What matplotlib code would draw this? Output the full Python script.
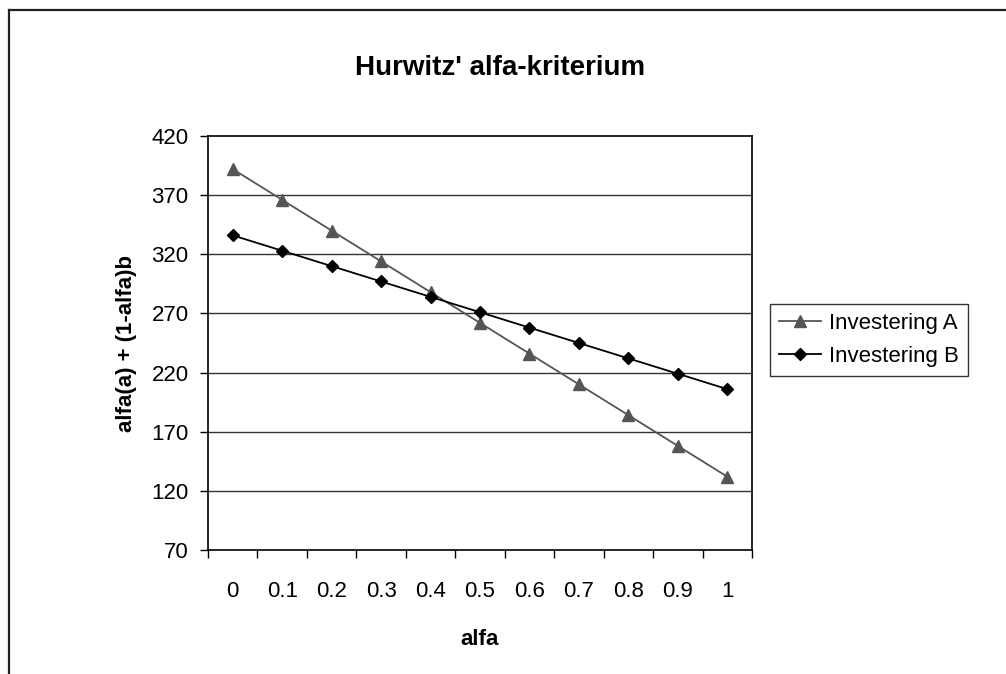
import matplotlib
matplotlib.use("Agg")
import matplotlib.pyplot as plt
from matplotlib.lines import Line2D
import numpy as np

# ---- data ---------------------------------------------------------------
alfa = ["0", "0.1", "0.2", "0.3", "0.4", "0.5", "0.6", "0.7", "0.8", "0.9", "1"]
invest_a = [392, 366, 340, 314, 288, 262, 236, 210, 184, 158, 132]
invest_b = [336, 323, 310, 297, 284, 271, 258, 245, 232, 219, 206]
y_ticks = [70, 120, 170, 220, 270, 320, 370, 420]

plt.rcParams.update({
    "font.family": ["Liberation Sans", "DejaVu Sans"],
    "text.color": "black",
})

fig = plt.figure(figsize=(10.06, 6.74), dpi=100)
fig.patch.set_facecolor("white")

# outer chart border (top + left visible, rest cut off in reference)
fig.add_artist(Line2D([9 / 1006, 1.0], [1 - 10 / 674, 1 - 10 / 674],
                      transform=fig.transFigure, color="#222222", lw=1.6))
fig.add_artist(Line2D([9 / 1006, 9 / 1006], [0.0, 1 - 10 / 674],
                      transform=fig.transFigure, color="#222222", lw=1.6))

ax = fig.add_axes([208 / 1006, 1 - 550 / 674, 544 / 1006, 414 / 674])
x = np.arange(len(alfa))

for yv in y_ticks[1:-1]:
    ax.axhline(yv, color="#333333", lw=1.0, zorder=1)

ax.plot(x, invest_a, color="#555555", lw=1.3, marker="^", markersize=8,
        markerfacecolor="#555555", markeredgecolor="#555555",
        label="Investering A", zorder=3)
ax.plot(x, invest_b, color="black", lw=1.3, marker="D", markersize=6.5,
        markerfacecolor="black", markeredgecolor="black",
        label="Investering B", zorder=4)

ax.set_xlim(-0.5, len(alfa) - 0.5)
ax.set_ylim(y_ticks[0], y_ticks[-1])
ax.set_yticks(y_ticks)
ax.set_yticklabels([str(v) for v in y_ticks], fontsize=16)

# category labels centred, tick marks on the boundaries
ax.set_xticks(x)
ax.set_xticklabels(alfa, fontsize=16)
ax.tick_params(axis="x", which="major", length=0, pad=22)
ax.set_xticks(np.arange(-0.5, len(alfa)), minor=True)
ax.tick_params(axis="x", which="minor", length=6, width=1, direction="out")
ax.tick_params(axis="y", length=6, width=1, direction="out", pad=8)

for s in ax.spines.values():
    s.set_color("black")
    s.set_linewidth(1.2)

ax.set_xlabel("alfa", fontsize=16, fontweight="bold", labelpad=20)
ax.set_ylabel("alfa(a) + (1-alfa)b", fontsize=16, fontweight="bold", labelpad=10)

fig.text(500 / 1006, 1 - 68 / 674, "Hurwitz' alfa-kriterium", ha="center",
         va="center", fontsize=20, fontweight="bold")

leg = ax.legend(loc="upper left", bbox_to_anchor=(770 / 1006, 1 - 304 / 674),
                bbox_transform=fig.transFigure, fontsize=16, frameon=True,
                fancybox=False, edgecolor="black", handlelength=1.9,
                handletextpad=0.35, borderpad=0.4, labelspacing=0.55,
                borderaxespad=0)
leg.get_frame().set_linewidth(1.0)

fig.savefig("out.png", dpi=100, facecolor="white")
